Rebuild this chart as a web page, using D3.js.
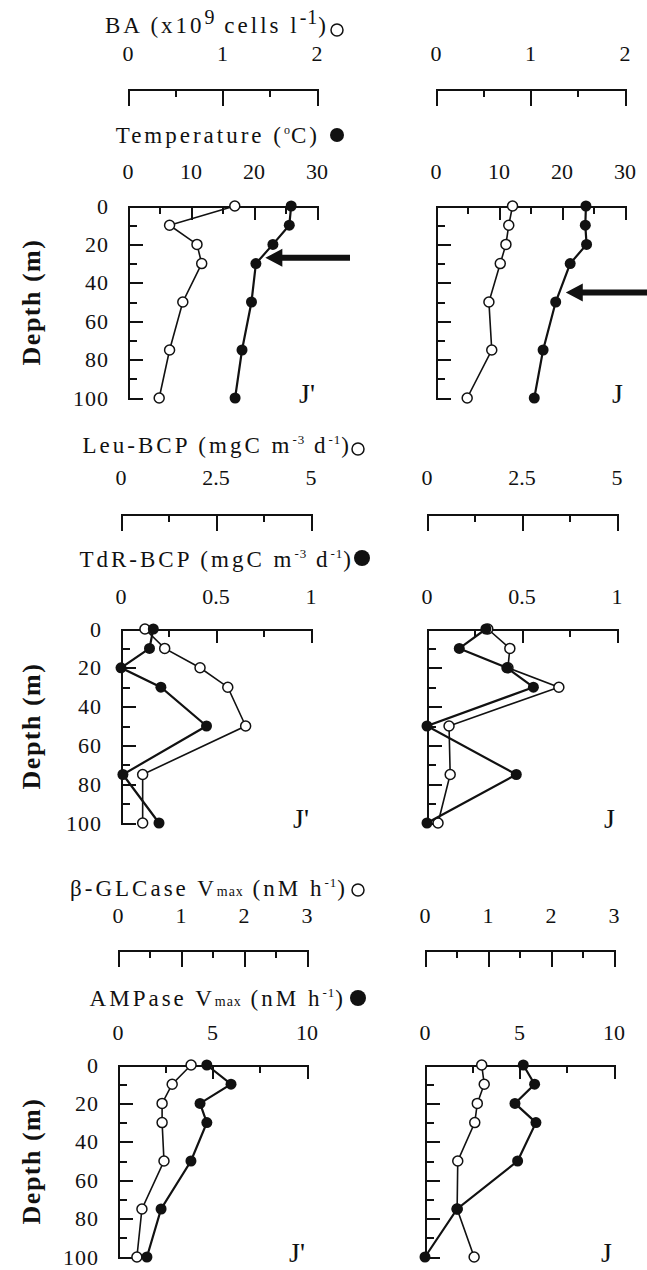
<!DOCTYPE html>
<meta charset="utf-8">
<style>
body { margin: 0; background: #fff; }
text { font-family: "Liberation Serif", "Times New Roman", serif; fill: #111; }
.axis path, .axis line { stroke: #111; stroke-width: 2; fill: none; shape-rendering: crispEdges; }
</style>
<body>
<svg width="647" height="1270"></svg>
<script src="https://cdn.jsdelivr.net/npm/d3@7"></script>
<script>
// sampling depths (m)
var depths = [0, 10, 20, 30, 50, 75, 100];
var depthTicks = [0, 20, 40, 60, 80, 100];

// row 1 : bacterial abundance (open) and temperature (filled)
var baJp   = [1.13, 0.44, 0.73, 0.78, 0.58, 0.44, 0.33];
var tempJp = [25.9, 25.6, 23.0, 20.3, 19.6, 18.1, 17.0];
var baJ    = [0.81, 0.77, 0.74, 0.68, 0.56, 0.59, 0.33];
var tempJ  = [23.8, 23.7, 23.9, 21.3, 19.0, 17.0, 15.6];

// row 2 : Leu-BCP (open) and TdR-BCP (filled)
var leuJp = [0.63, 1.15, 2.08, 2.81, 3.28, 0.57, 0.57];
var tdrJp = [0.17, 0.15, 0.00, 0.21, 0.45, 0.01, 0.20];
var leuJ  = [1.60, 2.18, 2.13, 3.47, 0.58, 0.61, 0.29];
var tdrJ  = [0.31, 0.17, 0.42, 0.56, 0.00, 0.47, 0.00];

// row 3 : beta-GLCase (open) and AMPase (filled)
var glcJp = [1.16, 0.86, 0.70, 0.70, 0.73, 0.38, 0.30];
var ampJp = [4.70, 5.98, 4.34, 4.70, 3.86, 2.28, 1.53];
var glcJ  = [0.90, 0.94, 0.83, 0.79, 0.52, 0.51, 0.78];
var ampJ  = [5.20, 5.80, 4.76, 5.87, 4.90, 1.70, 0.00];

// axis tick labels
var baTicks = [0, 1, 2],        tempTicks = [0, 10, 20, 30];
var leuTicks = [0, 2.5, 5],     tdrTicks = [0, 0.5, 1];
var glcTicks = [0, 1, 2, 3],    ampTicks = [0, 5, 10];

// thermocline arrows: depth and temperature they point at
var arrowDepth = [27, 45];
var arrowTemp  = [21.8, 20.6];

var svg = d3.select("svg");

var rows = [
  { y0: 206, y1: 398, by: 89, l1: 61, l2: 179,
    d1: [0, 2], t1: baTicks, m1: [0.5, 1.5],
    d2: [0, 30], t2: tempTicks, m2: [5, 15, 25],
    left: { x0: 128, x1: 317, open: baJp, fill: tempJp, name: "J'" },
    right: { x0: 436, x1: 625, open: baJ, fill: tempJ, name: "J" } },
  { y0: 629, y1: 823, by: 514, l1: 485, l2: 604,
    d1: [0, 5], t1: leuTicks, m1: [1.25, 3.75],
    d2: [0, 1], t2: [0.5, 1], m2: [0.25, 0.75], lab2: tdrTicks,
    left: { x0: 121, x1: 311, open: leuJp, fill: tdrJp, name: "J'" },
    right: { x0: 427, x1: 617, open: leuJ, fill: tdrJ, name: "J" } },
  { y0: 1065, y1: 1257, by: 950, l1: 923, l2: 1040,
    d1: [0, 3], t1: glcTicks, m1: [0.5, 1.5, 2.5],
    d2: [0, 10], t2: [5, 10], m2: [2.5, 7.5], lab2: ampTicks,
    left: { x0: 118, x1: 307, open: glcJp, fill: ampJp, name: "J'" },
    right: { x0: 425, x1: 614, open: glcJ, fill: ampJ, name: "J" } }
];

function tickAxis(g, axis, major, minor, bigLen, smallLen) {
  g.append("g").attr("class", "axis")
    .call(axis.tickValues(major).tickSize(bigLen).tickSizeOuter(0).tickFormat(""));
  g.append("g").attr("class", "axis")
    .call(axis.tickValues(minor).tickSize(smallLen).tickFormat(""))
    .select(".domain").remove();
}

function panel(row, p, isLeft) {
  var x1 = d3.scaleLinear().domain(row.d1).range([p.x0, p.x1]);
  var x2 = d3.scaleLinear().domain(row.d2).range([p.x0, p.x1]);
  var y = d3.scaleLinear().domain([0, 100]).range([row.y0, row.y1]);
  var g = svg.append("g");

  // bracket axis for the open series
  var gb = g.append("g").attr("transform", "translate(0," + row.by + ")");
  tickAxis(gb, d3.axisBottom(x1), row.t1, row.m1, 17, 8);
  g.selectAll(null).data(row.t1).enter().append("text")
    .attr("x", function (d) { return x1(d); })
    .attr("y", row.l1)
    .attr("text-anchor", "middle")
    .style("font-size", "22px")
    .text(function (d) { return d; });

  // plot top axis for the filled series
  var gt = g.append("g").attr("transform", "translate(0," + row.y0 + ")");
  tickAxis(gt, d3.axisBottom(x2), row.t2, row.m2, 14, 8);
  g.selectAll(null).data(row.lab2 || row.t2).enter().append("text")
    .attr("x", function (d) { return x2(d); })
    .attr("y", row.l2)
    .attr("text-anchor", "middle")
    .style("font-size", "22px")
    .text(function (d) { return d; });

  // depth axis
  var gl = g.append("g").attr("transform", "translate(" + p.x0 + ",0)");
  tickAxis(gl, d3.axisRight(y), depthTicks, [10, 30, 50, 70, 90], 15, 9);

  if (isLeft) {
    g.selectAll(null).data(depthTicks).enter().append("text")
      .attr("x", p.x0 - 19)
      .attr("y", function (d) { return y(d) + 7.5; })
      .attr("text-anchor", "end")
      .style("font-size", "22px")
      .style("letter-spacing", "1px")
      .text(function (d) { return d; });
    g.append("text")
      .attr("transform", "translate(40," + (row.y0 + row.y1) / 2 + ") rotate(-90)")
      .attr("text-anchor", "middle")
      .style("font-size", "26px")
      .style("font-weight", "bold")
      .style("letter-spacing", "1.5px")
      .text("Depth (m)");
  }

  var openPts = depths.map(function (d, i) { return { depth: d, v: p.open[i] }; });
  var fillPts = depths.map(function (d, i) { return { depth: d, v: p.fill[i] }; });

  g.append("path").datum(openPts)
    .attr("fill", "none").attr("stroke", "#111").attr("stroke-width", 1.6)
    .attr("d", d3.line().x(function (d) { return x1(d.v); }).y(function (d) { return y(d.depth); }));
  g.selectAll(null).data(openPts).enter().append("circle")
    .attr("cx", function (d) { return x1(d.v); })
    .attr("cy", function (d) { return y(d.depth); })
    .attr("r", 5).attr("fill", "#fff").attr("stroke", "#111").attr("stroke-width", 1.5);

  g.append("path").datum(fillPts)
    .attr("fill", "none").attr("stroke", "#111").attr("stroke-width", 2.2)
    .attr("d", d3.line().x(function (d) { return x2(d.v); }).y(function (d) { return y(d.depth); }));
  g.selectAll(null).data(fillPts).enter().append("circle")
    .attr("cx", function (d) { return x2(d.v); })
    .attr("cy", function (d) { return y(d.depth); })
    .attr("r", 5.5).attr("fill", "#111");

  g.append("text")
    .attr("x", p.x1 - 2)
    .attr("y", row.y1 + 5)
    .attr("text-anchor", "end")
    .style("font-size", "28px")
    .text(p.name);

  return { x: x2, y: y };
}

var scales = [];
rows.forEach(function (row) {
  scales.push([panel(row, row.left, true), panel(row, row.right, false)]);
});

// axis titles with symbol keys
function title(parts, xEnd, yBase, sym, sx, sy, sr) {
  var t = svg.append("text")
    .attr("x", xEnd).attr("y", yBase)
    .attr("text-anchor", "end")
    .style("font-size", "23px")
    .style("letter-spacing", "3px");
  var shift = 0;
  parts.forEach(function (pt) {
    var s = t.append("tspan").text(pt[0]);
    var target = 0, size = "23px";
    if (pt[1] === "sup") { target = -9; size = pt[2] || "13px"; }
    if (pt[1] === "sub") { target = 0; size = "14px"; }
    s.attr("dy", target - shift).style("font-size", size);
    if (pt[1] === "sub" || pt[1] === "sup") s.style("letter-spacing", "1px");
    shift = target;
  });
  if (sym === "open") {
    svg.append("circle").attr("cx", sx).attr("cy", sy).attr("r", sr)
      .attr("fill", "#fff").attr("stroke", "#111").attr("stroke-width", 1.5);
  } else {
    svg.append("circle").attr("cx", sx).attr("cy", sy).attr("r", sr).attr("fill", "#111");
  }
}

title([["BA (x10"], ["9", "sup", "20px"], [" cells l"], ["-1", "sup", "20px"], [")"]], 329, 33, "open", 337, 30, 6);
title([["Temperature ("], ["o", "sup", "12px"], ["C)"]], 320, 143, "fill", 337, 135, 7);
title([["Leu-BCP (mgC m"], ["-3", "sup"], [" d"], ["-1", "sup"], [")"]], 352, 453, "open", 358, 449, 6);
title([["TdR-BCP (mgC m"], ["-3", "sup"], [" d"], ["-1", "sup"], [")"]], 354, 567, "fill", 362, 558, 8);
title([["\u03b2-GLCase V"], ["max", "sub"], [" (nM h"], ["-1", "sup"], [")"]], 348, 896, "open", 358, 890, 6);
title([["AMPase V"], ["max", "sub"], [" (nM h"], ["-1", "sup"], [")"]], 346, 1006, "fill", 358, 998, 8);

// thermocline arrows in the top row
var tails = [350, 647];
[0, 1].forEach(function (i) {
  var s = scales[0][i];
  var tx = s.x(arrowTemp[i]), ty = s.y(arrowDepth[i]);
  svg.append("path")
    .attr("fill", "#111")
    .attr("d", "M" + tx + "," + ty +
      "L" + (tx + 17) + "," + (ty - 9) +
      "L" + (tx + 17) + "," + (ty - 3) +
      "L" + tails[i] + "," + (ty - 3) +
      "L" + tails[i] + "," + (ty + 3) +
      "L" + (tx + 17) + "," + (ty + 3) +
      "L" + (tx + 17) + "," + (ty + 9) + "Z");
});
</script>
</body>
